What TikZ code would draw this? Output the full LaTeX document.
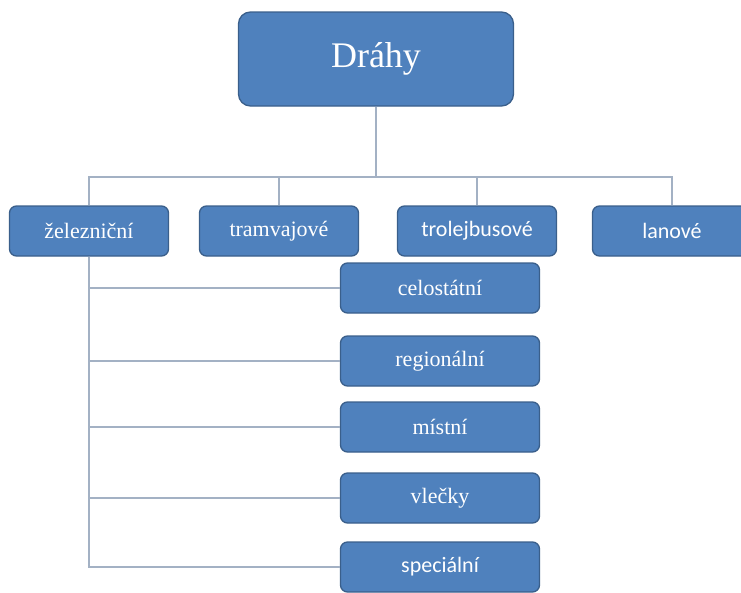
\documentclass[tikz,border=0pt]{standalone}
\usepackage{fontspec}
\setmainfont{Liberation Serif}
\newfontfamily\calibri{Carlito}
\usepackage{tikz}
\definecolor{boxblue}{HTML}{4F81BD}
\definecolor{boxedge}{HTML}{3A5F8B}
\definecolor{linegray}{HTML}{A3B1C4}
\tikzstyle{box} = [draw=boxedge, line width=1.3pt, fill=boxblue, rounded corners=7pt, text=white, inner sep=0pt, font=\fontsize{22}{24}\selectfont]
\tikzstyle{levelbox} = [box, minimum width=159pt, minimum height=50pt]
\tikzstyle{kindbox} = [box, minimum width=199pt, minimum height=50pt]
\tikzstyle{sansbox} = [font=\calibri\fontsize{22}{24}\selectfont]
\tikzstyle{conn} = [linegray, line width=1.2pt]

\begin{document}
\begin{tikzpicture}[x=1pt,y=-1pt]
			\useasboundingbox (0,0) rectangle (741,592);
			\clip (0,0) rectangle (741,592);
			\node[box, minimum width=275pt, minimum height=94pt, rounded corners=12pt, font=\fontsize{36}{40}\selectfont] (drahy) at (376,59) {Dráhy};
			\coordinate (bus) at (376,177);
			\node[levelbox] (zel) at (89,231) {železniční};
			\node[levelbox] (tram) at (279,231) {tramvajové};
			\node[levelbox, sansbox] (trol) at (477,231) {trolejbusové};
			\node[levelbox, sansbox] (lan) at (672,231) {lanové};
			\node[kindbox] (celo) at (440,288) {celostátní};
			\node[kindbox] (reg) at (440,361) {regionální};
			\node[kindbox] (mist) at (440,427) {místní};
			\node[kindbox] (vle) at (440,498) {vlečky};
			\node[kindbox, sansbox] (spec) at (440,567) {speciální};
			\draw[conn] (drahy.south) -- (bus);
			\draw[conn] (bus) -| (zel.north);
			\draw[conn] (bus) -| (tram.north);
			\draw[conn] (bus) -| (trol.north);
			\draw[conn] (bus) -| (lan.north);
			\draw[conn] (zel.south) |- (celo.west);
			\draw[conn] (zel.south) |- (reg.west);
			\draw[conn] (zel.south) |- (mist.west);
			\draw[conn] (zel.south) |- (vle.west);
			\draw[conn] (zel.south) |- (spec.west);
		\end{tikzpicture}
\end{document}
